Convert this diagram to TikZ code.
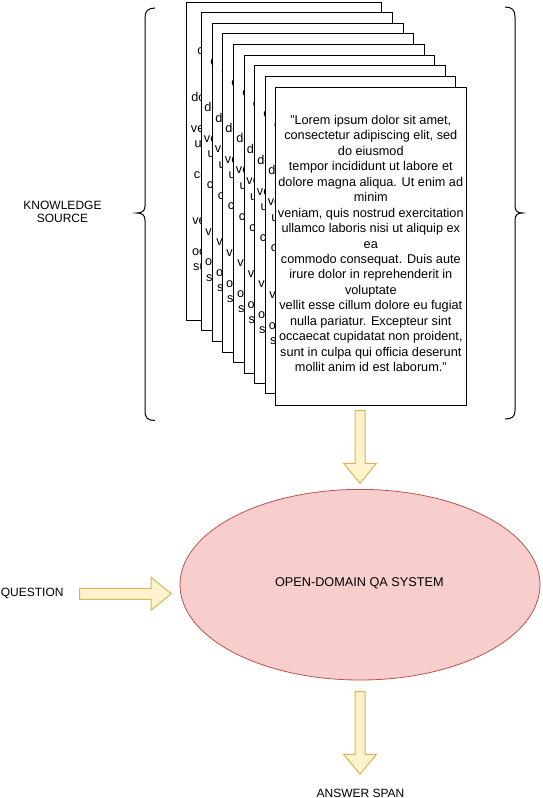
\documentclass[tikz,border=0pt]{standalone}
\usepackage{fontspec}
\setmainfont{Liberation Sans}
\usetikzlibrary{calc,shapes.geometric}
\definecolor{ellfill}{HTML}{F8CECC}
\definecolor{elldraw}{HTML}{B85450}
\definecolor{arrfill}{HTML}{FFF2CC}
\definecolor{arrdraw}{HTML}{D6B656}
\newcommand{\loremlines}{\symbol{34}Lorem ipsum dolor sit amet,\\
consectetur adipiscing elit, sed\\
do eiusmod\\
tempor incididunt ut labore et\\
dolore magna aliqua. Ut enim ad\\
minim\\
veniam, quis nostrud exercitation\\
ullamco laboris nisi ut aliquip ex\\
ea\\
commodo consequat. Duis aute\\
irure dolor in reprehenderit in\\
voluptate\\
vellit esse cillum dolore eu fugiat\\
nulla pariatur. Excepteur sint\\
occaecat cupidatat non proident,\\
sunt in culpa qui officia deserunt\\
mollit anim id est laborum.\symbol{34}}
\tikzset{
  pagebox/.style={draw=black, fill=white, line width=1pt, inner sep=0pt, outer sep=0pt},
  pagetext/.style={inner sep=0pt, align=center, yshift=3pt, font=\fontsize{12.7}{15.44}\selectfont},
  lbl/.style={inner sep=0pt, font=\fontsize{12}{13.5}\selectfont},
  bracestyle/.style={draw=black, line width=1pt},
  blockarrow/.style={draw=arrdraw, fill=arrfill, line width=1pt, line join=miter},
  qaellipse/.style={ellipse, draw=elldraw, fill=ellfill, line width=0.8pt, inner sep=0pt, minimum width=360pt, minimum height=190.6pt}
}
\begin{document}
\begin{tikzpicture}[x=1pt,y=-1pt]
\useasboundingbox (0,0) rectangle (542,798);
\clip (0,0) rectangle (542,798);
\fill[white] (0,0) rectangle (542,798);

% stack of pages
\foreach \i/\l/\t/\r/\b in {1/186.3/2.7/381.3/320,2/201.3/12.7/392.3/330.7,3/212.3/23.3/403.3/341.3,4/222.3/33.7/413.3/352,5/233.3/44/424.3/362.3,6/244.3/55/434.3/373.3,7/254.3/65.7/445.3/383,8/265.7/76.3/455.7/393.7,9/275.3/87.3/466.3/405.7}{
  \node[pagebox, minimum width={(\r-\l)*1pt}, minimum height={(\b-\t)*1pt}] (p\i) at ({(\l+\r)/2},{(\t+\b)/2}) {};
  \node[pagetext] (t\i) at (p\i.center) {\loremlines};
}

% braces
\draw[bracestyle] (155,8) .. controls (148,8) and (145,11) .. (145,18) -- (145,206) .. controls (145,211) and (142,213) .. (136.5,213) .. controls (142,213) and (145,215) .. (145,220) -- (145,411) .. controls (145,418) and (148,420.5) .. (155,420.5);
\draw[bracestyle] (505,7) .. controls (512,7) and (515,10) .. (515,17) -- (515,206) .. controls (515,211) and (517.5,213) .. (522.5,213) .. controls (517.5,213) and (515,215) .. (515,220) -- (515,410) .. controls (515,417) and (512,419) .. (505,419);

\node[lbl, align=center] (ks) at (62.5,212) {KNOWLEDGE\\SOURCE};

% QA system
\node[qaellipse] (qa) at (360,584.7) {};
\node[lbl, font=\fontsize{12.7}{14}\selectfont] (qalabel) at (359.4,583) {OPEN-DOMAIN QA SYSTEM};

\node[lbl, anchor=west] (question) at (0.7,593.3) {QUESTION};
\node[lbl, anchor=base] (answer) at (360.5,797) {ANSWER SPAN};

% block arrows
\coordinate (k1) at (360,410.7);
\coordinate (k2) at (360,483.3);
\coordinate (q1) at (79.7,593.8);
\coordinate (q2) at (171.2,593.8);
\coordinate (a1) at (360,691.7);
\coordinate (a2) at (360,774.3);

\draw[blockarrow] ($(k1)+(-5,0)$) -- ($(k2)+(-5,-20)$) -- ($(k2)+(-16.4,-20)$) -- (k2) -- ($(k2)+(16.4,-20)$) -- ($(k2)+(5,-20)$) -- ($(k1)+(5,0)$) -- cycle;
\draw[blockarrow] ($(a1)+(-5,0)$) -- ($(a2)+(-5,-20)$) -- ($(a2)+(-16.4,-20)$) -- (a2) -- ($(a2)+(16.4,-20)$) -- ($(a2)+(5,-20)$) -- ($(a1)+(5,0)$) -- cycle;
\draw[blockarrow] ($(q1)+(0,-5.5)$) -- ($(q2)+(-20,-5.5)$) -- ($(q2)+(-20,-16.4)$) -- (q2) -- ($(q2)+(-20,16.4)$) -- ($(q2)+(-20,5.5)$) -- ($(q1)+(0,5.5)$) -- cycle;
\end{tikzpicture}
\end{document}
